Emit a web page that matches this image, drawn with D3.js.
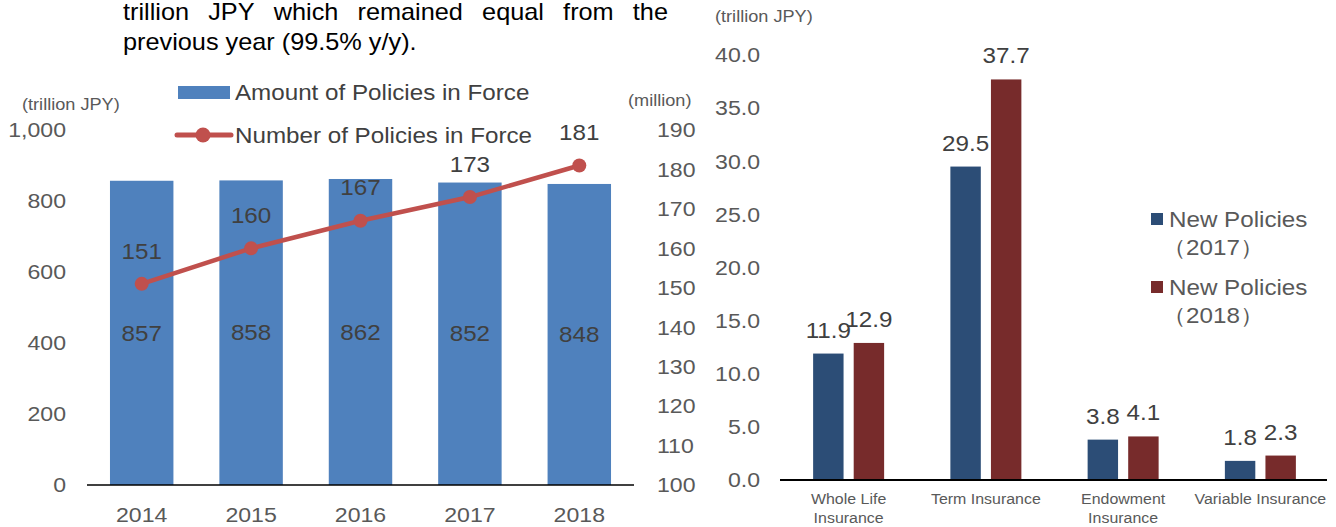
<!DOCTYPE html>
<html>
<head>
<meta charset="utf-8">
<script src="https://cdn.jsdelivr.net/npm/d3@7"></script>
<style>
  html, body { margin: 0; padding: 0; background: #fff; }
  svg { display: block; font-family: "Liberation Sans", Arial, sans-serif; }
</style>
</head>
<body>
<svg id="chart" width="1336" height="527"></svg>
<script>
// ---- Data: policies in force (left) ----
const years = ["2014", "2015", "2016", "2017", "2018"];
const amountInForce = [857, 858, 862, 852, 848];      // trillion JPY
const numberInForce = [151, 160, 167, 173, 181];      // million policies
const amountTicks = [0, 200, 400, 600, 800, 1000];
const numberTicks = [100, 110, 120, 130, 140, 150, 160, 170, 180, 190];

// ---- Data: new policies by product (right) ----
const products = ["Whole Life\nInsurance", "Term Insurance", "Endowment\nInsurance", "Variable Insurance"];
const newPolicies2017 = [11.9, 29.5, 3.8, 1.8];        // trillion JPY
const newPolicies2018 = [12.9, 37.7, 4.1, 2.3];
const newPolicyTicks = [0, 5, 10, 15, 20, 25, 30, 35, 40];
const seriesNames = [["New Policies", "（2017）"], ["New Policies", "（2018）"]];

// ---- Paragraph text above the left chart ----
const paragraphLines = ["trillion JPY which remained equal from the", "previous year (99.5% y/y)."];

const svg = d3.select("#chart");
const BAR_BLUE = "#4F81BD", LINE_RED = "#C0504D";
const NAVY = "#2C4D76", MAROON = "#772B2B";
const TICK_GREY = "#595959", LABEL_DARK = "#404040";
const STRETCH = 1.1;   // horizontal widening applied to all chart text

// widen each text horizontally about its own anchor x
function stretch(sel) {
  sel.each(function () {
    const x0 = +this.getAttribute("x") || 0;
    this.setAttribute("transform",
      `translate(${x0},0) scale(${STRETCH},1) translate(${-x0},0)`);
  });
}

// ---------- Paragraph (first line justified) ----------
(function drawParagraph() {
  const x0 = 123, x1 = 668, size = 23;
  const words = paragraphLines[0].split(" ");
  const g = svg.append("g").attr("font-size", size).attr("fill", "#000")
    .attr("transform", `translate(${x0},0) scale(${STRETCH},1) translate(${-x0},0)`);
  const nodes = words.map(w => g.append("text").attr("y", 20).text(w));
  const widths = nodes.map(n => n.node().getComputedTextLength());
  const span = (x1 - x0) / STRETCH;
  const gap = (span - d3.sum(widths)) / (words.length - 1);
  let x = x0;
  nodes.forEach((n, i) => { n.attr("x", x); x += widths[i] + gap; });
  g.append("text").attr("x", x0).attr("y", 50).text(paragraphLines[1]);
})();

// ---------- Left chart: amount (bars) and number (line) ----------
const L = { left: 87, right: 634, bottom: 485, top: 130 };
const xL = d3.scaleBand().domain(years).range([L.left, L.right]).paddingInner(0.42).paddingOuter(0.21);
const yAmount = d3.scaleLinear().domain([0, 1000]).range([L.bottom, L.top]);
const yNumber = d3.scaleLinear().domain([100, 190]).range([L.bottom, L.top]);

const left = svg.append("g");

left.selectAll("rect.amount")
  .data(amountInForce)
  .join("rect")
  .attr("class", "amount")
  .attr("x", (d, i) => xL(years[i]))
  .attr("width", xL.bandwidth())
  .attr("y", d => yAmount(d))
  .attr("height", d => yAmount(0) - yAmount(d))
  .attr("fill", BAR_BLUE);

left.append("line")
  .attr("x1", L.left).attr("x2", L.right)
  .attr("y1", L.bottom).attr("y2", L.bottom)
  .attr("stroke", "#000").attr("stroke-width", 1.5);

// left axis tick labels
left.selectAll("text.ytick")
  .data(amountTicks)
  .join("text")
  .attr("class", "ytick")
  .attr("x", 66)
  .attr("y", d => yAmount(d))
  .attr("dy", "0.35em")
  .attr("text-anchor", "end")
  .attr("font-size", 21)
  .attr("fill", TICK_GREY)
  .text(d3.format(","));

// right axis tick labels
left.selectAll("text.ntick")
  .data(numberTicks)
  .join("text")
  .attr("class", "ntick")
  .attr("x", 657)
  .attr("y", d => yNumber(d))
  .attr("dy", "0.35em")
  .attr("font-size", 21)
  .attr("fill", TICK_GREY)
  .text(d => d);

// year labels
left.selectAll("text.year")
  .data(years)
  .join("text")
  .attr("class", "year")
  .attr("x", d => xL(d) + xL.bandwidth() / 2)
  .attr("y", 515)
  .attr("dy", "0.35em")
  .attr("text-anchor", "middle")
  .attr("font-size", 21)
  .attr("fill", TICK_GREY)
  .text(d => d);

// unit labels
left.append("text").attr("x", 22).attr("y", 104).attr("dy", "0.35em")
  .attr("font-size", 16.5).attr("fill", TICK_GREY).text("(trillion JPY)");
left.append("text").attr("x", 628).attr("y", 100).attr("dy", "0.35em")
  .attr("font-size", 16.5).attr("fill", TICK_GREY).text("(million)");

// bar value labels (centred in bar)
left.selectAll("text.amountLabel")
  .data(amountInForce)
  .join("text")
  .attr("class", "amountLabel")
  .attr("x", (d, i) => xL(years[i]) + xL.bandwidth() / 2)
  .attr("y", d => (yAmount(d) + yAmount(0)) / 2)
  .attr("dy", "0.35em")
  .attr("text-anchor", "middle")
  .attr("font-size", 22)
  .attr("fill", LABEL_DARK)
  .text(d => d);

// number-of-policies line
const linePts = numberInForce.map((d, i) => [xL(years[i]) + xL.bandwidth() / 2, yNumber(d)]);
left.append("path")
  .attr("d", d3.line()(linePts))
  .attr("fill", "none")
  .attr("stroke", LINE_RED)
  .attr("stroke-width", 4.5)
  .attr("stroke-linejoin", "round");

left.selectAll("circle.num")
  .data(numberInForce)
  .join("circle")
  .attr("class", "num")
  .attr("cx", (d, i) => xL(years[i]) + xL.bandwidth() / 2)
  .attr("cy", d => yNumber(d))
  .attr("r", 7)
  .attr("fill", LINE_RED);

left.selectAll("text.numLabel")
  .data(numberInForce)
  .join("text")
  .attr("class", "numLabel")
  .attr("x", (d, i) => xL(years[i]) + xL.bandwidth() / 2)
  .attr("y", d => yNumber(d) - 33)
  .attr("dy", "0.35em")
  .attr("text-anchor", "middle")
  .attr("font-size", 22)
  .attr("fill", LABEL_DARK)
  .text(d => d);

// legend
const legL = left.append("g");
legL.append("rect").attr("x", 178).attr("y", 86).attr("width", 52).attr("height", 13).attr("fill", BAR_BLUE);
legL.append("text").attr("x", 235).attr("y", 92).attr("dy", "0.35em")
  .attr("font-size", 22).attr("fill", LABEL_DARK).text("Amount of Policies in Force");
legL.append("line").attr("x1", 177).attr("x2", 231).attr("y1", 135).attr("y2", 135)
  .attr("stroke", LINE_RED).attr("stroke-width", 5).attr("stroke-linecap", "round");
legL.append("circle").attr("cx", 203).attr("cy", 135).attr("r", 7.5).attr("fill", LINE_RED);
legL.append("text").attr("x", 235).attr("y", 135).attr("dy", "0.35em")
  .attr("font-size", 22).attr("fill", LABEL_DARK).text("Number of Policies in Force");

stretch(left.selectAll("text"));

// ---------- Right chart: new policies by product ----------
const R = { left: 780, right: 1329, bottom: 480, top: 55 };
const xR = d3.scaleBand().domain(products).range([R.left, R.right]);
const xSeries = d3.scaleBand().domain([0, 1]).range([0, 71]).paddingInner(0.25);
const yR = d3.scaleLinear().domain([0, 40]).range([R.bottom, R.top]);
const seriesData = [newPolicies2017, newPolicies2018];
const seriesColors = [NAVY, MAROON];

const right = svg.append("g");

seriesData.forEach((vals, s) => {
  const groupOffset = (xR.bandwidth() - 71) / 2;
  right.selectAll("rect.s" + s)
    .data(vals)
    .join("rect")
    .attr("class", "s" + s)
    .attr("x", (d, i) => xR(products[i]) + groupOffset + xSeries(s))
    .attr("width", xSeries.bandwidth())
    .attr("y", d => yR(d))
    .attr("height", d => yR(0) - yR(d))
    .attr("fill", seriesColors[s]);

  right.selectAll("text.v" + s)
    .data(vals)
    .join("text")
    .attr("class", "v" + s)
    .attr("x", (d, i) => xR(products[i]) + groupOffset + xSeries(s) + xSeries.bandwidth() / 2)
    .attr("y", d => yR(d) - 16)
    .attr("text-anchor", "middle")
    .attr("font-size", 22)
    .attr("fill", LABEL_DARK)
    .text(d => d.toFixed(1));
});

right.append("line")
  .attr("x1", R.left).attr("x2", 1327)
  .attr("y1", R.bottom).attr("y2", R.bottom)
  .attr("stroke", "#000").attr("stroke-width", 2);

right.selectAll("text.rtick")
  .data(newPolicyTicks)
  .join("text")
  .attr("class", "rtick")
  .attr("x", 760)
  .attr("y", d => yR(d))
  .attr("dy", "0.35em")
  .attr("text-anchor", "end")
  .attr("font-size", 21)
  .attr("fill", TICK_GREY)
  .text(d => d.toFixed(1));

right.append("text").attr("x", 715).attr("y", 16).attr("dy", "0.35em")
  .attr("font-size", 16.5).attr("fill", TICK_GREY).text("(trillion JPY)");

// category labels (may wrap onto two lines)
products.forEach(p => {
  const lines = p.split("\n");
  const cx = xR(p) + xR.bandwidth() / 2;
  const t = right.append("text")
    .attr("x", cx)
    .attr("y", 499)
    .attr("text-anchor", "middle")
    .attr("font-size", 14.5)
    .attr("fill", TICK_GREY);
  lines.forEach((ln, i) => {
    t.append("tspan")
      .attr("x", cx)
      .attr("y", 499 + i * 19)
      .attr("dy", "0.35em")
      .text(ln);
  });
});

// legend
seriesNames.forEach((nm, s) => {
  const y0 = 219 + s * 68;
  right.append("rect").attr("x", 1151).attr("y", y0 - 6).attr("width", 12).attr("height", 12)
    .attr("fill", seriesColors[s]);
  right.append("text").attr("x", 1169).attr("y", y0).attr("dy", "0.35em")
    .attr("font-size", 22).attr("fill", TICK_GREY).text(nm[0]);
  right.append("text").attr("x", 1162).attr("y", y0 + 28).attr("dy", "0.35em")
    .attr("font-size", 22).attr("fill", TICK_GREY).text(nm[1]);
});

stretch(right.selectAll("text"));
</script>
</body>
</html>
